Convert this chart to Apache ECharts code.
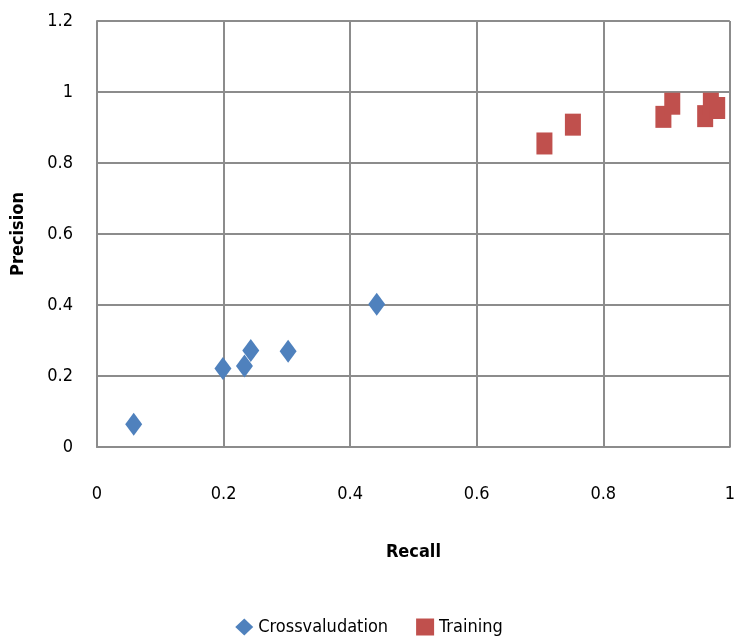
<!DOCTYPE html>
<html><head><meta charset="utf-8">
<script src="https://cdn.jsdelivr.net/npm/echarts@6/dist/echarts.min.js"></script>
<style>html,body{margin:0;padding:0;background:#fff}#c{width:738px;height:643px}</style>
</head><body><div id="c"></div>
<script>
const seriesNames = ['Crossvaludation', 'Training'];
const crossRecall = [0.058, 0.199, 0.233, 0.243, 0.302, 0.442];
const crossPrecision = [0.064, 0.221, 0.228, 0.272, 0.270, 0.402];
const trainRecall = [0.707, 0.752, 0.895, 0.909, 0.961, 0.970, 0.980];
const trainPrecision = [0.855, 0.908, 0.930, 0.967, 0.932, 0.967, 0.955];
const xTicks = [0, 0.2, 0.4, 0.6, 0.8, 1];
const yTicks = [0, 0.2, 0.4, 0.6, 0.8, 1, 1.2];

const FONT = '"Liberation Sans Narrow", "DejaVu Sans Condensed", "Liberation Sans", sans-serif';
const GRID = '#8c8c8c';
const pairs = (xs, ys) => xs.map((x, i) => [x, ys[i]]);

const chart = echarts.init(document.getElementById('c'));
chart.setOption({
  animation: false,
  backgroundColor: '#fff',
  grid: { left: 97, right: 5, top: 21, bottom: 196, containLabel: false },
  xAxis: {
    type: 'value', min: 0, max: 1, interval: 0.2,
    name: 'Recall', nameLocation: 'middle', nameGap: 96,
    nameTextStyle: { fontFamily: FONT, fontSize: 18, fontWeight: 'bold', color: '#000' },
    axisLine: { show: true, lineStyle: { color: GRID, width: 2 } },
    axisTick: { show: false },
    splitLine: { show: true, lineStyle: { color: GRID, width: 2 } },
    axisLabel: { margin: 38, fontFamily: FONT, fontSize: 18, color: '#000',
      formatter: v => xTicks.includes(+v.toFixed(1)) ? String(+v.toFixed(1)) : '' }
  },
  yAxis: {
    type: 'value', min: 0, max: 1.2, interval: 0.2,
    name: 'Precision', nameLocation: 'middle', nameGap: 70,
    nameTextStyle: { fontFamily: FONT, fontSize: 18, fontWeight: 'bold', color: '#000' },
    axisLine: { show: true, lineStyle: { color: GRID, width: 2 } },
    axisTick: { show: false },
    splitLine: { show: true, lineStyle: { color: GRID, width: 2 } },
    axisLabel: { margin: 24, fontFamily: FONT, fontSize: 18, color: '#000',
      formatter: v => yTicks.includes(+v.toFixed(1)) ? String(+v.toFixed(1)) : '' }
  },
  legend: {
    bottom: 2, left: 'center', itemGap: 28, itemWidth: 18, itemHeight: 17,
    textStyle: { fontFamily: FONT, fontSize: 18, color: '#000' },
    data: [
      { name: seriesNames[0], icon: 'diamond' },
      { name: seriesNames[1], icon: 'rect' }
    ]
  },
  series: [
    { name: seriesNames[0], type: 'scatter', symbol: 'diamond', symbolSize: [17, 23],
      itemStyle: { color: '#4F81BD', opacity: 1 }, data: pairs(crossRecall, crossPrecision) },
    { name: seriesNames[1], type: 'scatter', symbol: 'rect', symbolSize: [16, 22],
      itemStyle: { color: '#C0504D', opacity: 1 }, data: pairs(trainRecall, trainPrecision) }
  ]
});
</script>
</body></html>
